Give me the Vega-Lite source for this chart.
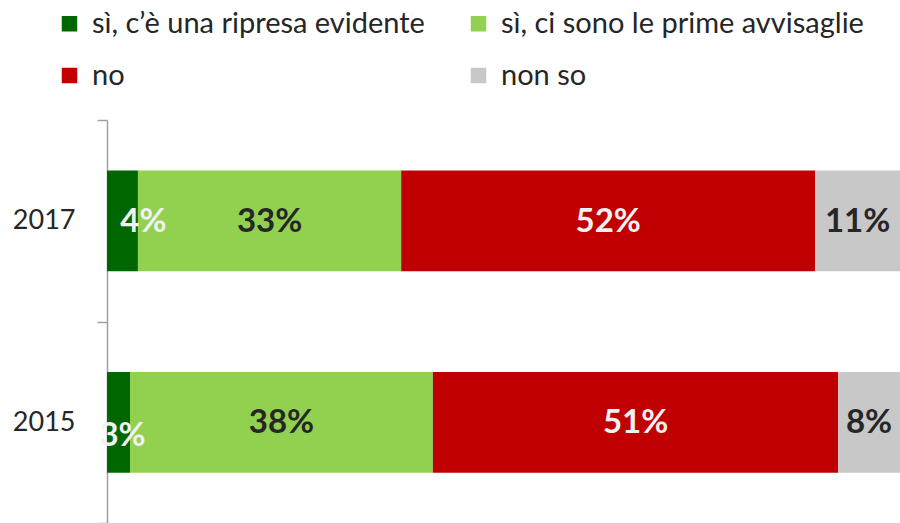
{
  "$schema": "https://vega.github.io/schema/vega-lite/v6.json",
  "width": 793,
  "height": 403,
  "autosize": {"type": "none"},
  "padding": {"left": 107, "top": 120, "right": 0, "bottom": 0},
  "background": "white",
  "config": {
    "font": "Lato",
    "view": {"stroke": null}
  },
  "data": {
    "values": [
      {"anno": "2017", "risposta": "sì, c’è una ripresa evidente", "ordine": 1, "valore": 0.039},
      {"anno": "2017", "risposta": "sì, ci sono le prime avvisaglie", "ordine": 2, "valore": 0.332},
      {"anno": "2017", "risposta": "no", "ordine": 3, "valore": 0.522},
      {"anno": "2017", "risposta": "non so", "ordine": 4, "valore": 0.107},
      {"anno": "2015", "risposta": "sì, c’è una ripresa evidente", "ordine": 1, "valore": 0.029},
      {"anno": "2015", "risposta": "sì, ci sono le prime avvisaglie", "ordine": 2, "valore": 0.382},
      {"anno": "2015", "risposta": "no", "ordine": 3, "valore": 0.511},
      {"anno": "2015", "risposta": "non so", "ordine": 4, "valore": 0.078}
    ]
  },
  "transform": [
    {"stack": "valore", "groupby": ["anno"], "sort": [{"field": "ordine", "order": "ascending"}], "as": ["x0", "x1"]},
    {"calculate": "(datum.x0 + datum.x1) / 2", "as": "xm"}
  ],
  "encoding": {
    "y": {
      "field": "anno",
      "type": "nominal",
      "sort": "descending",
      "scale": {"paddingInner": 0, "paddingOuter": 0},
      "axis": {
        "title": null,
        "tickBand": "extent",
        "domainColor": "#A0A0A0",
        "domainWidth": 1.5,
        "tickColor": "#A0A0A0",
        "tickWidth": 1.5,
        "tickSize": 10,
        "labelFontSize": 27,
        "labelColor": "#262626",
        "labelPadding": 22,
        "grid": false
      }
    }
  },
  "layer": [
    {
      "mark": {"type": "bar", "height": {"band": 0.5}},
      "encoding": {
        "x": {"field": "x0", "type": "quantitative", "scale": {"domain": [0, 1], "nice": false}, "axis": null},
        "x2": {"field": "x1"},
        "color": {
          "field": "risposta",
          "type": "nominal",
          "sort": ["sì, c’è una ripresa evidente", "sì, ci sono le prime avvisaglie", "no", "non so"],
          "scale": {
            "domain": ["sì, c’è una ripresa evidente", "sì, ci sono le prime avvisaglie", "no", "non so"],
            "range": ["#006600", "#92D050", "#C00000", "#C8C8C8"]
          },
          "legend": {
            "title": null,
            "orient": "none",
            "direction": "horizontal",
            "legendX": -52,
            "legendY": -111,
            "columns": 2,
            "columnPadding": 39,
            "rowPadding": 22,
            "symbolType": "square",
            "symbolSize": 240,
            "symbolStrokeWidth": 0,
            "labelFontSize": 29,
            "labelColor": "#262626",
            "labelOffset": 8,
            "labelLimit": 600
          }
        }
      }
    },
    {
      "transform": [{"filter": "datum.ordine != 1"}],
      "mark": {"type": "text", "fontSize": 33, "fontWeight": "bold", "align": "center", "baseline": "middle", "dy": 1},
      "encoding": {
        "x": {"field": "xm", "type": "quantitative"},
        "text": {"field": "valore", "type": "quantitative", "format": ".0%"},
        "color": {"condition": {"test": "datum.ordine == 3", "value": "#F2F2F2"}, "value": "#262626"}
      }
    },
    {
      "transform": [{"filter": "datum.ordine == 1 && datum.anno == '2017'"}],
      "mark": {"type": "text", "fontSize": 33, "fontWeight": "bold", "align": "center", "baseline": "middle", "dx": 21, "dy": 1, "color": "#F2F2F2"},
      "encoding": {
        "x": {"field": "xm", "type": "quantitative"},
        "text": {"field": "valore", "type": "quantitative", "format": ".0%"}
      }
    },
    {
      "transform": [{"filter": "datum.ordine == 1 && datum.anno == '2015'"}],
      "mark": {"type": "text", "fontSize": 33, "fontWeight": "bold", "align": "center", "baseline": "middle", "dx": 4, "dy": 14, "color": "#F2F2F2"},
      "encoding": {
        "x": {"field": "xm", "type": "quantitative"},
        "text": {"field": "valore", "type": "quantitative", "format": ".0%"}
      }
    }
  ]
}
